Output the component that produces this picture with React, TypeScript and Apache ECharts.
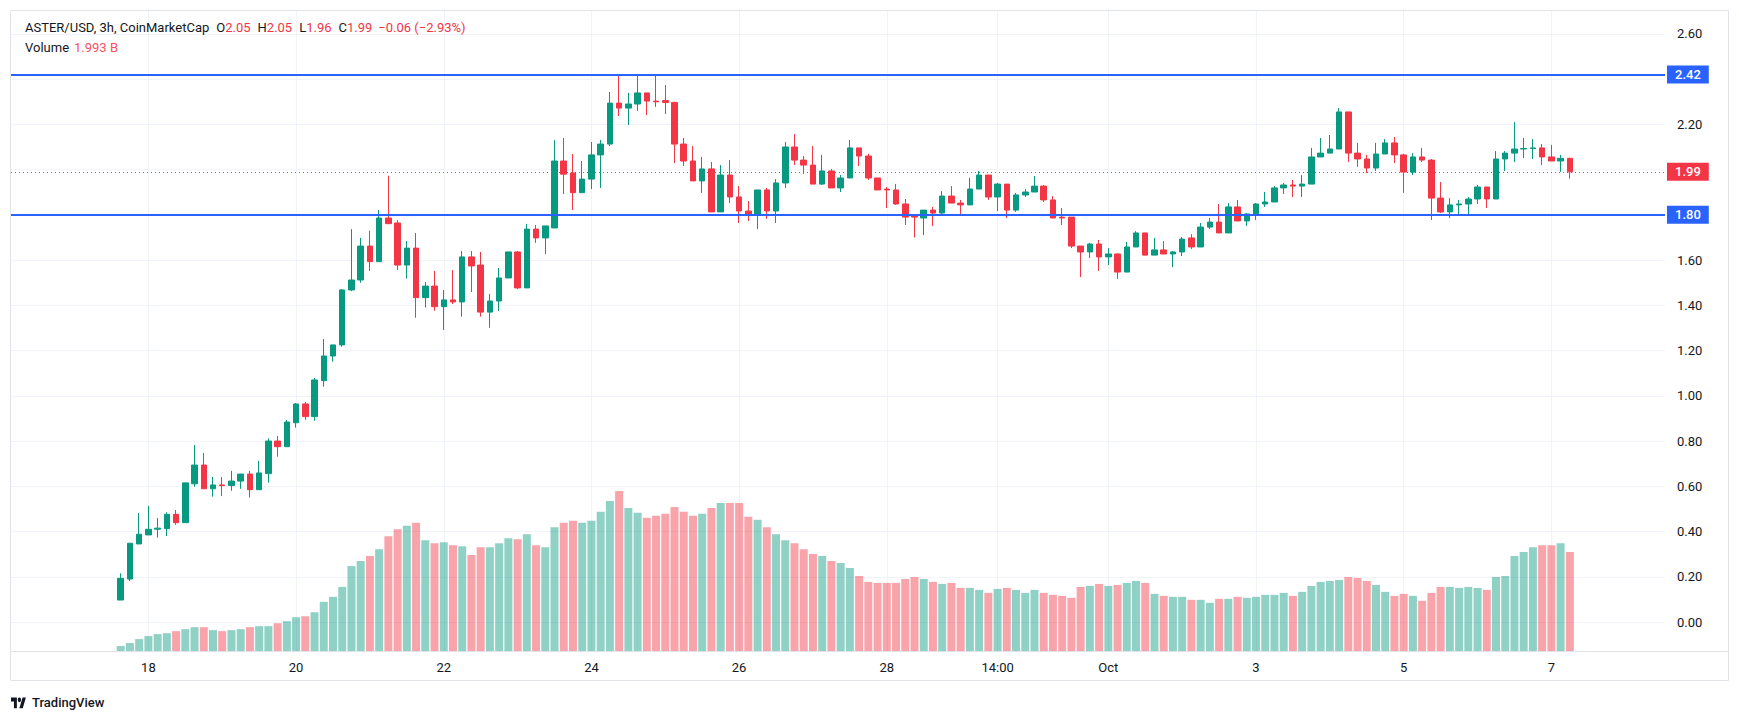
import React, { useEffect, useRef } from 'react';
import * as echarts from 'echarts';

// ---- DATA ----
const opens = [
  0.097, 0.19, 0.345, 0.385, 0.41, 0.413, 0.476, 0.439, 0.611, 0.694,
  0.589, 0.606, 0.603, 0.623, 0.654, 0.585, 0.656, 0.80, 0.775, 0.881,
  0.964, 0.908, 1.067, 1.176, 1.225, 1.468, 1.512, 1.662, 1.593, 1.786,
  1.764, 1.578, 1.653, 1.434, 1.485, 1.394, 1.424, 1.415, 1.614, 1.578,
  1.37, 1.419, 1.521, 1.636, 1.477, 1.737, 1.698, 1.742, 2.038, 1.985,
  1.898, 1.958, 2.065, 2.113, 2.294, 2.272, 2.29, 2.339, 2.303, 2.305,
  2.297, 2.113, 2.038, 1.95, 2.003, 1.813, 1.976, 1.879, 1.817, 1.799,
  1.91, 1.817, 1.941, 2.10, 2.042, 2.02, 1.936, 1.994, 1.919, 1.963,
  2.096, 2.06, 1.963, 1.914, 1.91, 1.848, 1.795, 1.786, 1.821, 1.808,
  1.883, 1.852, 1.844, 1.914, 1.976, 1.879, 1.936, 1.821, 1.888, 1.901,
  1.927, 1.866, 1.79, 1.79, 1.662, 1.636, 1.671, 1.614, 1.627, 1.547,
  1.658, 1.72, 1.622, 1.645, 1.627, 1.636, 1.698, 1.658, 1.746, 1.768,
  1.72, 1.835, 1.773, 1.804, 1.848, 1.857, 1.919, 1.932, 1.927, 1.936,
  2.056, 2.073, 2.091, 2.255, 2.073, 2.047, 2.007, 2.069, 2.118, 2.065,
  1.989, 2.056, 2.042, 1.874, 1.813, 1.844, 1.848, 1.87, 1.923, 1.87,
  2.047, 2.073, 2.091, 2.093, 2.096, 2.056, 2.038, 2.05,
];
const highs = [
  0.215, 0.35, 0.482, 0.513, 0.46, 0.485, 0.495, 0.615, 0.782, 0.747,
  0.641, 0.641, 0.668, 0.654, 0.668, 0.712, 0.812, 0.822, 0.893, 0.968,
  0.973, 1.079, 1.251, 1.225, 1.472, 1.737, 1.698, 1.73, 1.821, 1.973,
  1.777, 1.684, 1.72, 1.503, 1.552, 1.468, 1.556, 1.64, 1.64, 1.636,
  1.45, 1.565, 1.636, 1.64, 1.76, 1.755, 1.751, 2.13, 2.14, 2.069,
  2.038, 2.122, 2.131, 2.343, 2.418, 2.339, 2.414, 2.339, 2.414, 2.374,
  2.30, 2.14, 2.104, 2.056, 2.034, 2.02, 2.042, 1.927, 1.861, 1.91,
  1.919, 1.958, 2.122, 2.157, 2.06, 2.104, 2.065, 2.003, 1.976, 2.131,
  2.096, 2.07, 1.963, 1.923, 1.936, 1.87, 1.795, 1.821, 1.835, 1.905,
  1.927, 1.866, 1.963, 1.994, 1.976, 1.941, 1.936, 1.897, 1.914, 1.972,
  1.932, 1.883, 1.83, 1.79, 1.662, 1.676, 1.689, 1.653, 1.63, 1.68,
  1.728, 1.72, 1.698, 1.684, 1.64, 1.702, 1.715, 1.764, 1.786, 1.848,
  1.852, 1.866, 1.808, 1.852, 1.901, 1.927, 1.941, 1.954, 1.976, 2.096,
  2.14, 2.153, 2.272, 2.255, 2.118, 2.065, 2.118, 2.135, 2.144, 2.07,
  2.073, 2.096, 2.047, 1.945, 1.874, 1.866, 1.879, 1.932, 1.923, 2.082,
  2.082, 2.21, 2.14, 2.135, 2.113, 2.109, 2.065, 2.05,
];
const lows = [
  0.097, 0.181, 0.345, 0.385, 0.373, 0.38, 0.43, 0.439, 0.598, 0.589,
  0.554, 0.557, 0.58, 0.589, 0.55, 0.585, 0.616, 0.731, 0.775, 0.859,
  0.894, 0.89, 1.04, 1.151, 1.217, 1.463, 1.50, 1.552, 1.593, 1.76,
  1.556, 1.518, 1.345, 1.39, 1.376, 1.291, 1.406, 1.35, 1.459, 1.35,
  1.301, 1.375, 1.521, 1.472, 1.477, 1.676, 1.627, 1.742, 1.892, 1.821,
  1.898, 1.914, 1.919, 2.104, 2.237, 2.197, 2.259, 2.241, 2.277, 2.246,
  2.029, 2.016, 1.95, 1.897, 1.813, 1.813, 1.852, 1.764, 1.773, 1.737,
  1.782, 1.764, 1.919, 2.02, 1.98, 1.936, 1.932, 1.919, 1.901, 1.963,
  2.016, 1.954, 1.91, 1.83, 1.844, 1.755, 1.70, 1.711, 1.751, 1.804,
  1.852, 1.804, 1.844, 1.914, 1.866, 1.817, 1.786, 1.813, 1.879, 1.901,
  1.857, 1.786, 1.755, 1.653, 1.525, 1.609, 1.552, 1.578, 1.516, 1.547,
  1.658, 1.622, 1.622, 1.627, 1.569, 1.618, 1.649, 1.658, 1.737, 1.72,
  1.72, 1.773, 1.751, 1.777, 1.835, 1.857, 1.892, 1.879, 1.879, 1.936,
  2.056, 2.073, 2.091, 2.034, 2.012, 1.985, 1.994, 2.069, 2.029, 1.897,
  1.976, 2.034, 1.777, 1.808, 1.786, 1.799, 1.804, 1.848, 1.83, 1.87,
  1.994, 2.034, 2.051, 2.047, 2.02, 2.038, 1.99, 1.96,
];
const closes = [
  0.193, 0.348, 0.388, 0.41, 0.415, 0.476, 0.439, 0.615, 0.694, 0.589,
  0.606, 0.603, 0.623, 0.654, 0.585, 0.659, 0.80, 0.775, 0.884, 0.964,
  0.908, 1.07, 1.176, 1.225, 1.468, 1.512, 1.662, 1.593, 1.786, 1.761,
  1.578, 1.653, 1.434, 1.485, 1.394, 1.424, 1.415, 1.614, 1.574, 1.37,
  1.419, 1.521, 1.636, 1.477, 1.737, 1.698, 1.751, 2.038, 1.98, 1.898,
  1.958, 2.065, 2.113, 2.294, 2.272, 2.29, 2.339, 2.303, 2.30, 2.297,
  2.113, 2.038, 1.95, 2.003, 1.813, 1.976, 1.879, 1.817, 1.799, 1.91,
  1.817, 1.941, 2.10, 2.042, 2.02, 1.936, 1.994, 1.919, 1.963, 2.096,
  2.06, 1.963, 1.91, 1.91, 1.848, 1.79, 1.79, 1.821, 1.808, 1.883,
  1.852, 1.844, 1.914, 1.976, 1.879, 1.936, 1.821, 1.888, 1.901, 1.927,
  1.866, 1.786, 1.786, 1.662, 1.636, 1.671, 1.614, 1.627, 1.547, 1.658,
  1.72, 1.622, 1.645, 1.627, 1.636, 1.693, 1.658, 1.746, 1.768, 1.72,
  1.835, 1.773, 1.804, 1.848, 1.857, 1.919, 1.932, 1.927, 1.936, 2.056,
  2.073, 2.091, 2.255, 2.073, 2.047, 2.007, 2.069, 2.118, 2.065, 1.989,
  2.056, 2.042, 1.874, 1.813, 1.844, 1.848, 1.87, 1.923, 1.87, 2.047,
  2.073, 2.091, 2.093, 2.096, 2.056, 2.038, 2.05, 1.99,
];
// volume in billions
const volumes = [
  0.10, 0.16, 0.24, 0.30, 0.34, 0.36, 0.40, 0.44, 0.48, 0.48,
  0.42, 0.40, 0.42, 0.44, 0.48, 0.50, 0.50, 0.56, 0.60, 0.68,
  0.70, 0.78, 0.99, 1.09, 1.29, 1.71, 1.81, 1.91, 2.05, 2.31,
  2.45, 2.52, 2.58, 2.23, 2.17, 2.19, 2.13, 2.11, 1.93, 2.09,
  2.09, 2.17, 2.27, 2.25, 2.35, 2.13, 2.09, 2.49, 2.58, 2.62,
  2.58, 2.62, 2.80, 3.02, 3.22, 2.88, 2.78, 2.68, 2.72, 2.76,
  2.90, 2.80, 2.72, 2.76, 2.88, 2.98, 2.98, 2.98, 2.70, 2.64,
  2.49, 2.35, 2.23, 2.17, 2.05, 1.95, 1.91, 1.81, 1.77, 1.67,
  1.51, 1.39, 1.37, 1.37, 1.37, 1.45, 1.49, 1.45, 1.39, 1.35,
  1.37, 1.27, 1.27, 1.23, 1.17, 1.25, 1.27, 1.23, 1.17, 1.23,
  1.17, 1.13, 1.11, 1.07, 1.29, 1.31, 1.35, 1.31, 1.33, 1.37,
  1.41, 1.37, 1.15, 1.11, 1.09, 1.09, 1.03, 1.03, 0.97, 1.05,
  1.05, 1.09, 1.07, 1.09, 1.13, 1.13, 1.17, 1.11, 1.19, 1.31,
  1.39, 1.41, 1.43, 1.49, 1.47, 1.41, 1.33, 1.19, 1.11, 1.15,
  1.11, 1.01, 1.17, 1.29, 1.29, 1.27, 1.29, 1.27, 1.23, 1.49,
  1.51, 1.91, 1.99, 2.09, 2.13, 2.13, 2.17, 1.993,
];
const xTickIdx = [3, 19, 35, 51, 67, 83, 95, 107, 123, 139, 155];
const xTickLabels = ['18', '20', '22', '24', '26', '28', '14:00', 'Oct', '3', '5', '7'];
const yTicks = [0, 0.2, 0.4, 0.6, 0.8, 1.0, 1.2, 1.4, 1.6, 1.8, 2.0, 2.2, 2.4, 2.6];
const levels = [2.42, 1.8];
const symbolTitle = 'ASTER/USD, 3h, CoinMarketCap';
const volumeUnit = 'B';

// ---- STYLE ----
const UP = '#089981';
const DOWN = '#f23645';
const UP_VOL = 'rgba(8,153,129,0.45)';
const DOWN_VOL = 'rgba(242,54,69,0.45)';
const BLUE = '#2962ff';
const TEXT = '#131722';
const GRID = '#f0f3fa';
const BORDER = '#e0e3eb';
const FONT = 'Roboto, "Noto Sans", "DejaVu Sans", sans-serif';

const TV_LOGO = 'M14 22H7V11H0V4h14v18zM28 22h-8l7.5-18h8L28 22zM24 8a4 4 0 1 1-8 0a4 4 0 1 1 8 0z';

export default function App() {
  const ref = useRef<HTMLDivElement>(null);

  useEffect(() => {
    if (!ref.current) return;
    try {
      echarts.graphic.registerShape('tvlogo', echarts.graphic.extendPath(TV_LOGO, {}));
    } catch (e) {}
    const chart = echarts.init(ref.current, null, { renderer: 'svg' });

    const n = closes.length;
    const last = n - 1;
    const lastClose = closes[last];
    const change = closes[last] - closes[last - 1];
    const pct = (change / closes[last - 1]) * 100;
    const fmtSigned = (v: number, d: number) => (v < 0 ? '\u2212' : '+') + Math.abs(v).toFixed(d);

    const markers = [...levels, lastClose];
    const shownYTicks = yTicks.filter((t) => markers.every((m) => Math.abs(m - t) > 0.06));

    const candleData = opens.map((o, i) => [i, o, closes[i], lows[i], highs[i]]);
    const volData = volumes.map((v, i) => ({
      value: [i, v],
      itemStyle: { color: closes[i] >= opens[i] ? UP_VOL : DOWN_VOL },
    }));

    const boxLabel = (bg: string, fmt: (v: number) => string) => ({
      show: true,
      position: 'end',
      distance: 2,
      formatter: (p: any) => fmt(p.value),
      backgroundColor: bg,
      color: '#ffffff',
      padding: [3, 8, 2, 8],
      fontSize: 13,
      fontWeight: 500,
      fontFamily: FONT,
    });

    const base = { fontSize: 13, fontFamily: FONT, fontWeight: 'normal' };

    const option: any = {
      animation: false,
      backgroundColor: '#ffffff',
      textStyle: { fontFamily: FONT },
      title: [
        {
          left: 12,
          top: 8,
          text:
            `{d|${symbolTitle}}{k|O}{r|${opens[last].toFixed(2)}}{k|H}{r|${highs[last].toFixed(2)}}` +
            `{k|L}{r|${lows[last].toFixed(2)}}{k|C}{r|${closes[last].toFixed(2)}}` +
            `{c|${fmtSigned(change, 2)} (${fmtSigned(pct, 2)}%)}`,
          textStyle: {
            fontWeight: 'normal',
            fontSize: 13,
            rich: {
              d: { ...base, color: TEXT },
              k: { ...base, color: TEXT, padding: [0, 0, 0, 7] },
              r: { ...base, color: DOWN },
              c: { ...base, color: DOWN, padding: [0, 0, 0, 6] },
            },
          },
        },
        {
          left: 12,
          top: 28,
          text: `{d|Volume}{v|${volumes[last].toFixed(3)} ${volumeUnit}}`,
          textStyle: {
            fontWeight: 'normal',
            fontSize: 13,
            rich: {
              d: { ...base, color: TEXT },
              v: { ...base, color: '#f7525f', padding: [0, 0, 0, 5] },
            },
          },
        },
      ],
      grid: { left: 3, right: 66, top: 3, bottom: 62 },
      xAxis: {
        type: 'value',
        min: -11.885,
        max: 167.31,
        axisLine: { show: false },
        axisTick: { show: false, customValues: xTickIdx },
        axisLabel: {
          customValues: xTickIdx,
          formatter: (v: number) => xTickLabels[xTickIdx.indexOf(Math.round(v))] ?? '',
          color: TEXT,
          fontSize: 13,
          margin: 10,
          fontFamily: FONT,
        },
        splitLine: { show: true, lineStyle: { color: GRID, width: 1 } },
      },
      yAxis: [
        {
          type: 'value',
          position: 'right',
          min: -0.1282,
          max: 2.7012,
          axisLine: { show: false },
          axisTick: { show: false, customValues: yTicks },
          axisLabel: {
            customValues: shownYTicks,
            formatter: (v: number) => v.toFixed(2),
            color: TEXT,
            fontSize: 13,
            margin: 12,
            fontFamily: FONT,
          },
          splitLine: { show: true, lineStyle: { color: GRID, width: 1 } },
        },
        {
          type: 'value',
          min: 0,
          max: 12.88,
          show: false,
          splitLine: { show: false },
        },
      ],
      graphic: [
        {
          type: 'rect',
          silent: true,
          z: -1,
          shape: { x: 2.5, y: 2.5, width: 1718, height: 670 },
          style: { fill: 'none', stroke: BORDER, lineWidth: 1 },
        },
        {
          type: 'line',
          silent: true,
          shape: { x1: 2.5, y1: 643.5, x2: 1720.5, y2: 643.5 },
          style: { stroke: BORDER, lineWidth: 1 },
        },
        {
          type: 'tvlogo',
          x: 3,
          y: 687,
          scaleX: 0.42,
          scaleY: 0.6,
          style: { fill: TEXT },
        },
        {
          type: 'text',
          x: 24,
          y: 694,
          style: {
            text: 'TradingView',
            fill: TEXT,
            font: `500 13px ${FONT}`,
            verticalAlign: 'middle',
          },
        },
      ],
      series: [
        {
          type: 'bar',
          name: 'Volume',
          xAxisIndex: 0,
          yAxisIndex: 1,
          barWidth: 8,
          data: volData,
          z: 1,
          markLine: {
            silent: true,
            symbol: ['none', 'none'],
            lineStyle: { opacity: 0 },
            data: [
              {
                yAxis: volumes[last],
                label: {
                  ...boxLabel('#f7525f', (v) => `${v.toFixed(3)} ${volumeUnit}`),
                  padding: [3, 6, 2, 6],
                },
              },
            ],
          },
        },
        {
          type: 'candlestick',
          name: 'ASTER/USD',
          xAxisIndex: 0,
          yAxisIndex: 0,
          encode: { x: 0, y: [1, 2, 3, 4] },
          barWidth: 6,
          z: 3,
          data: candleData,
          itemStyle: {
            color: UP,
            color0: DOWN,
            borderColor: UP,
            borderColor0: DOWN,
            borderWidth: 1,
          },
          markLine: {
            silent: true,
            symbol: ['none', 'none'],
            data: [
              ...levels.map((lv) => ({
                yAxis: lv,
                lineStyle: { color: BLUE, width: 2, type: 'solid' },
                label: boxLabel(BLUE, (v) => v.toFixed(2)),
              })),
              {
                yAxis: lastClose,
                lineStyle: { color: DOWN, width: 1, type: [1, 3] },
                label: boxLabel(DOWN, (v) => v.toFixed(2)),
              },
            ],
          },
        },
      ],
    };

    chart.setOption(option);
    return () => chart.dispose();
  }, []);

  return <div ref={ref} style={{ width: 1723, height: 705 }} />;
}
